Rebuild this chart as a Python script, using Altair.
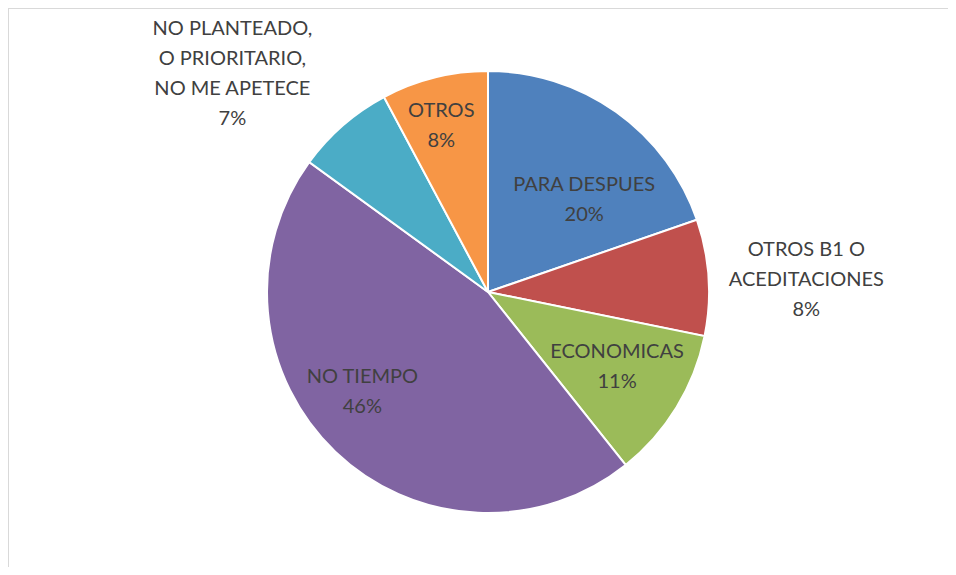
import altair as alt
import pandas as pd

# ---- data ----
categories = ["PARA DESPUES", "OTROS B1 O ACEDITACIONES", "ECONOMICAS",
              "NO TIEMPO", "NO PLANTEADO, O PRIORITARIO, NO ME APETECE", "OTROS"]
values = [19.7, 8.5, 11.1, 45.7, 7.2, 7.8]
pct_labels = ["20%", "8%", "11%", "46%", "7%", "8%"]
label_lines = [
    ["PARA DESPUES"],
    ["OTROS B1 O", "ACEDITACIONES"],
    ["ECONOMICAS"],
    ["NO TIEMPO"],
    ["NO PLANTEADO,", "O PRIORITARIO,", "NO ME APETECE"],
    ["OTROS"],
]
colors = ["#4F81BD", "#C0504D", "#9BBB59", "#8064A2", "#4BACC6", "#F79646"]

df = pd.DataFrame({
    "category": categories,
    "value": values,
    "order": list(range(len(categories))),
    "label": [ln + [p] for ln, p in zip(label_lines, pct_labels)],
})
total = float(sum(values))

W, H = 940, 559
CX, CY = 480, 284
R = 221
LH = 30

# label placement (style): radius from centre and pixel nudges (block centre)
label_style = {
    "PARA DESPUES": (133, 19, 16),
    "OTROS B1 O ACEDITACIONES": (318, 1, 9),
    "ECONOMICAS": (149, 2, -3),
    "NO TIEMPO": (160, -15, -16),
    "NO PLANTEADO, O PRIORITARIO, NO ME APETECE": (336, -35, 35),
    "OTROS": (172, -5, 1),
}

theta_scale = alt.Scale(domain=[0, total])
color_scale = alt.Scale(domain=categories, range=colors)

base = alt.Chart(df)

pie = base.mark_arc(outerRadius=R, stroke="white", strokeWidth=2).encode(
    theta=alt.Theta("value:Q", stack=True, scale=theta_scale),
    color=alt.Color("category:N", scale=color_scale, legend=None),
    order=alt.Order("order:Q"),
    x=alt.value(CX),
    y=alt.value(CY),
)

layers = [pie]
for cat, lines in zip(categories, label_lines):
    r, dx, dy = label_style[cat]
    n = len(lines) + 1
    t = (
        base.transform_window(cum="sum(value)", sort=[alt.SortField("order")])
        .transform_calculate(mid="datum.cum - datum.value / 2")
        .transform_filter(alt.datum.category == cat)
        .mark_text(radius=r, dx=dx, dy=dy - (n - 1) * LH / 2, font="Lato",
                   fontSize=20, color="#404040", lineHeight=LH,
                   align="center", baseline="middle")
        .encode(
            theta=alt.Theta("mid:Q", stack=None, scale=theta_scale),
            text="label",
            x=alt.value(CX),
            y=alt.value(CY),
        )
    )
    layers.append(t)

border_left = base.mark_rule(color="#d9d9d9", strokeWidth=1).encode(
    x=alt.value(0.5), y=alt.value(0), y2=alt.value(H))
border_top = base.mark_rule(color="#d9d9d9", strokeWidth=1).encode(
    y=alt.value(0.5), x=alt.value(0), x2=alt.value(W))

chart = alt.layer(*layers, border_left, border_top).properties(
    width=W, height=H, padding=0,
    autosize=alt.AutoSizeParams(type="none"),
).configure_view(stroke=None)

chart.save("out.html", embed_options={"renderer": "svg", "actions": False})
